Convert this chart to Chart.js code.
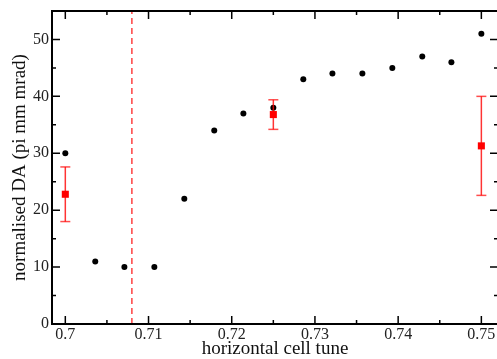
<!DOCTYPE html>
<html>
<head>
<meta charset="utf-8">
<script src="https://cdn.jsdelivr.net/npm/chart.js@4.4.1/dist/chart.umd.min.js"></script>
<style>
  html, body { margin: 0; padding: 0; background: #fff; overflow: hidden; }
  #wrap { width: 500px; height: 359px; }
</style>
</head>
<body>
<div id="wrap"><canvas id="myChart" width="500" height="359"></canvas></div>
<script>
'use strict';
/*------ data ------*/
let tunes = [0.7, 0.7036, 0.7071, 0.7107, 0.7143, 0.7179, 0.7214, 0.725,
  0.7286, 0.7321, 0.7357, 0.7393, 0.7429, 0.7464, 0.75];
let daValues = [30, 11, 10, 10, 22, 34, 37, 38, 43, 44, 44, 45, 47, 46, 51];
let avgTunes = [0.7, 0.725, 0.75];
let avgValues = [22.8, 36.8, 31.3];
let avgErrors = [4.8, 2.6, 8.7];
let resonanceTune = 0.708;
let xTicks = [0.7, 0.71, 0.72, 0.73, 0.74, 0.75];
let xMinorTicks = [0.705, 0.715, 0.725, 0.735, 0.745];
let yTicks = [0, 10, 20, 30, 40, 50];
let yMinorTicks = [5, 15, 25, 35, 45];
let xRange = [0.6984, 0.752];
let yRange = [0, 55];

const serif = '"Liberation Serif", "DejaVu Serif", serif';

/*------ datasets ------*/
let datasets = [];
// averaged points (drawn on top)
datasets.push({
  type: 'scatter',
  data: avgTunes.map((x, i) => ({ x: x, y: avgValues[i] })),
  pointStyle: 'rect',
  pointRadius: 5,
  backgroundColor: '#ff0000',
  borderColor: '#ff0000',
  borderWidth: 0,
});
// error bars, one little line per point, caps as 'line' points
for (let i = 0; i < avgTunes.length; i++) {
  datasets.push({
    type: 'line',
    data: [
      { x: avgTunes[i], y: avgValues[i] - avgErrors[i] },
      { x: avgTunes[i], y: avgValues[i] + avgErrors[i] },
    ],
    borderColor: 'rgba(255,0,0,0.8)',
    borderWidth: 1.5,
    pointStyle: 'line',
    pointRadius: 5,
    pointBorderColor: 'rgba(255,0,0,0.7)',
    pointBorderWidth: 1.5,
  });
}
// resonance line
datasets.push({
  type: 'line',
  data: [{ x: resonanceTune, y: yRange[0] }, { x: resonanceTune, y: yRange[1] }],
  borderColor: 'rgba(255,0,0,0.75)',
  borderWidth: 1.5,
  borderDash: [6, 4],
  pointRadius: 0,
});
// scan points
datasets.push({
  type: 'scatter',
  data: tunes.map((x, i) => ({ x: x, y: daValues[i] })),
  pointStyle: 'circle',
  pointRadius: 3,
  backgroundColor: '#000',
  borderWidth: 0,
});

/*------ frame and inward ticks ------*/
const frameTicks = {
  id: 'frameTicks',
  afterDatasetsDraw(chart) {
    const ctx = chart.ctx;
    const a = chart.chartArea;
    const xs = chart.scales.x;
    const ys = chart.scales.y;
    ctx.save();
    ctx.strokeStyle = '#000';
    ctx.lineWidth = 1.5;
    ctx.beginPath();
    xTicks.forEach(v => {
      let px = xs.getPixelForValue(v);
      ctx.moveTo(px, a.bottom); ctx.lineTo(px, a.bottom - 8);
      ctx.moveTo(px, a.top); ctx.lineTo(px, a.top + 8);
    });
    xMinorTicks.forEach(v => {
      let px = xs.getPixelForValue(v);
      ctx.moveTo(px, a.bottom); ctx.lineTo(px, a.bottom - 4);
      ctx.moveTo(px, a.top); ctx.lineTo(px, a.top + 4);
    });
    yTicks.forEach(v => {
      let py = ys.getPixelForValue(v);
      ctx.moveTo(a.left, py); ctx.lineTo(a.left + 8, py);
      ctx.moveTo(a.right, py); ctx.lineTo(a.right - 8, py);
    });
    yMinorTicks.forEach(v => {
      let py = ys.getPixelForValue(v);
      ctx.moveTo(a.left, py); ctx.lineTo(a.left + 4, py);
      ctx.moveTo(a.right, py); ctx.lineTo(a.right - 4, py);
    });
    ctx.stroke();
    ctx.lineWidth = 2;
    ctx.strokeRect(a.left, a.top, a.right - a.left, a.bottom - a.top);
    ctx.restore();
  },
};

const config = {
  data: { datasets: datasets },
  plugins: [frameTicks],
  options: {
    responsive: false,
    animation: false,
    layout: { autoPadding: false, padding: { top: 11, right: 2, left: 0, bottom: 0 } },
    plugins: {
      legend: { display: false },
      tooltip: { enabled: false },
    },
    scales: {
      x: {
        type: 'linear',
        min: xRange[0],
        max: xRange[1],
        grid: { display: false, drawTicks: false },
        border: { display: false },
        afterBuildTicks: s => { s.ticks = xTicks.map(v => ({ value: v })); },
        afterFit: s => { s.height = 35; s.paddingLeft = 0; s.paddingRight = 0; },
        ticks: {
          callback: v => String(v),
          color: '#222',
          padding: 1,
          maxRotation: 0,
          font: { family: serif, size: 16 },
        },
        title: {
          display: true,
          text: 'horizontal cell tune',
          color: '#111',
          padding: 0,
          font: { family: serif, size: 19, lineHeight: 1 },
        },
      },
      y: {
        type: 'linear',
        min: yRange[0],
        max: yRange[1],
        grid: { display: false, drawTicks: false },
        border: { display: false },
        afterBuildTicks: s => { s.ticks = yTicks.map(v => ({ value: v })); },
        afterFit: s => { s.width = 52; s.paddingTop = 0; s.paddingBottom = 0; },
        ticks: {
          color: '#222',
          padding: 3,
          font: { family: serif, size: 16 },
        },
        title: {
          display: true,
          text: 'normalised DA (pi mm mrad)',
          color: '#111',
          padding: { top: 11, bottom: 0 },
          font: { family: serif, size: 19, lineHeight: 1 },
        },
      },
    },
  },
};
const myChart = new Chart(document.getElementById('myChart'), config);
</script>
</body>
</html>
